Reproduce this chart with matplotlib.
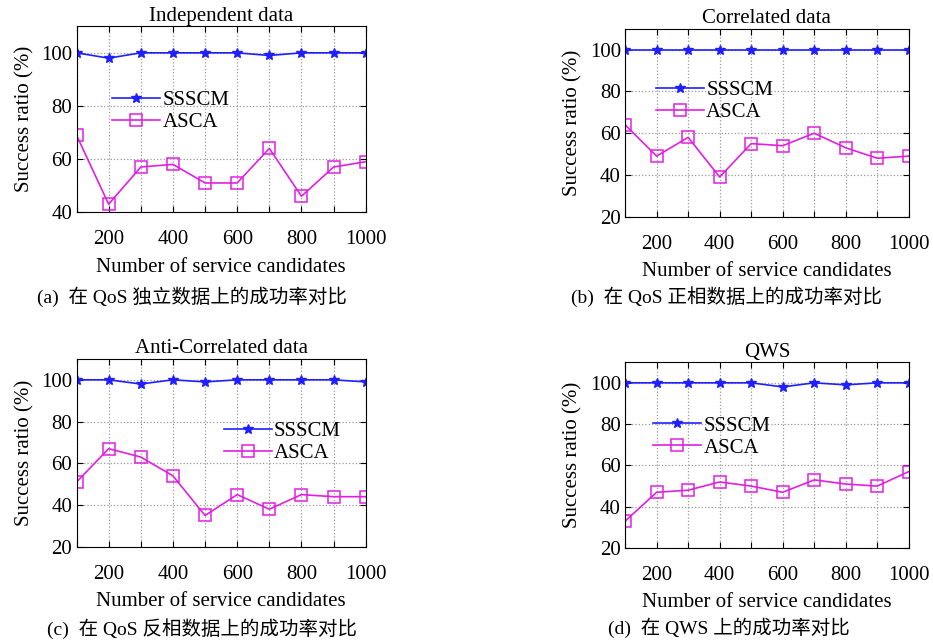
import matplotlib
matplotlib.use('Agg')
import matplotlib.pyplot as plt

# - - - - - - - - - - Data - - - - - - - - - - #
candidates = [100, 200, 300, 400, 500, 600, 700, 800, 900, 1000]

titles = ['Independent data', 'Correlated data', 'Anti-Correlated data', 'QWS']
captions = ['(a)  在 QoS 独立数据上的成功率对比',
            '(b)  在 QoS 正相数据上的成功率对比',
            '(c)  在 QoS 反相数据上的成功率对比',
            '(d)  在 QWS 上的成功率对比']

sssc_indep = [100, 98, 100, 100, 100, 100, 99, 100, 100, 100]
asca_indep = [69, 43, 57, 58, 51, 51, 64, 46, 57, 59]

sssc_corr = [100, 100, 100, 100, 100, 100, 100, 100, 100, 100]
asca_corr = [64, 49, 58, 39, 55, 54, 60, 53, 48, 49]

sssc_anti = [100, 100, 98, 100, 99, 100, 100, 100, 100, 99]
asca_anti = [51, 67, 63, 54, 35, 45, 38, 45, 44, 44]

sssc_qws = [100, 100, 100, 100, 100, 98, 100, 99, 100, 100]
asca_qws = [33, 47, 48, 52, 50, 47, 53, 51, 50, 57]

y_bottoms = [40, 20, 20, 20]

# - - - - - - - - - - Layout - - - - - - - - - - #
plt.rcParams['font.family'] = ['Liberation Serif', 'Noto Sans CJK SC']
plt.rcParams['font.size'] = 15

fig = plt.figure(figsize=(9.33, 6.41), dpi=100)

# axes boxes [left, bottom, width, height] in figure fractions
boxes = [[0.082, 0.669, 0.310, 0.290],
         [0.670, 0.662, 0.304, 0.293],
         [0.082, 0.147, 0.310, 0.293],
         [0.670, 0.145, 0.304, 0.290]]
caption_x = [0.206, 0.779, 0.216, 0.781]
caption_y = [0.537, 0.537, 0.020, 0.020]
legend_pos = [(0.095, 0.70), (0.08, 0.77), (0.48, 0.71), (0.07, 0.755)]

series = [(sssc_indep, asca_indep), (sssc_corr, asca_corr),
          (sssc_anti, asca_anti), (sssc_qws, asca_qws)]

for i in range(4):
  ax = fig.add_axes(boxes[i])
  s, a = series[i]
  ax.plot(candidates, s, color='#2020ff', marker='*', markersize=7, linewidth=1.2, label='SSSCM')
  ax.plot(candidates, a, color='#e020e0', marker='s', markersize=8, markerfacecolor='none',
          markeredgewidth=1.1, linewidth=1.2, label='ASCA')

  ax.set_xlim(100, 1000)
  ax.set_ylim(y_bottoms[i], 110)
  ax.set_xticks(candidates)
  ax.set_xticklabels([str(c) if c % 200 == 0 else '' for c in candidates])
  ax.set_yticks(range(y_bottoms[i], 101, 20))
  ax.tick_params(direction='in', top=True, right=True, length=4, pad=13, labelsize=15)
  ax.tick_params(axis='y', pad=3)
  ax.grid(True, linestyle=':', color='#999999', linewidth=0.9)

  ax.set_title(titles[i], fontsize=15, pad=4)
  ax.set_ylabel('Success ratio (%)', fontsize=15, labelpad=5)
  ax.set_xlabel('Number of service candidates', fontsize=15, labelpad=6)

  ax.legend(loc='upper left', bbox_to_anchor=legend_pos[i], frameon=False,
            handlelength=2.3, handletextpad=0.1, labelspacing=0.12,
            borderaxespad=0, fontsize=15)

  fig.text(caption_x[i], caption_y[i], captions[i], ha='center', va='center', fontsize=14)

fig.savefig('out.png', dpi=100)
